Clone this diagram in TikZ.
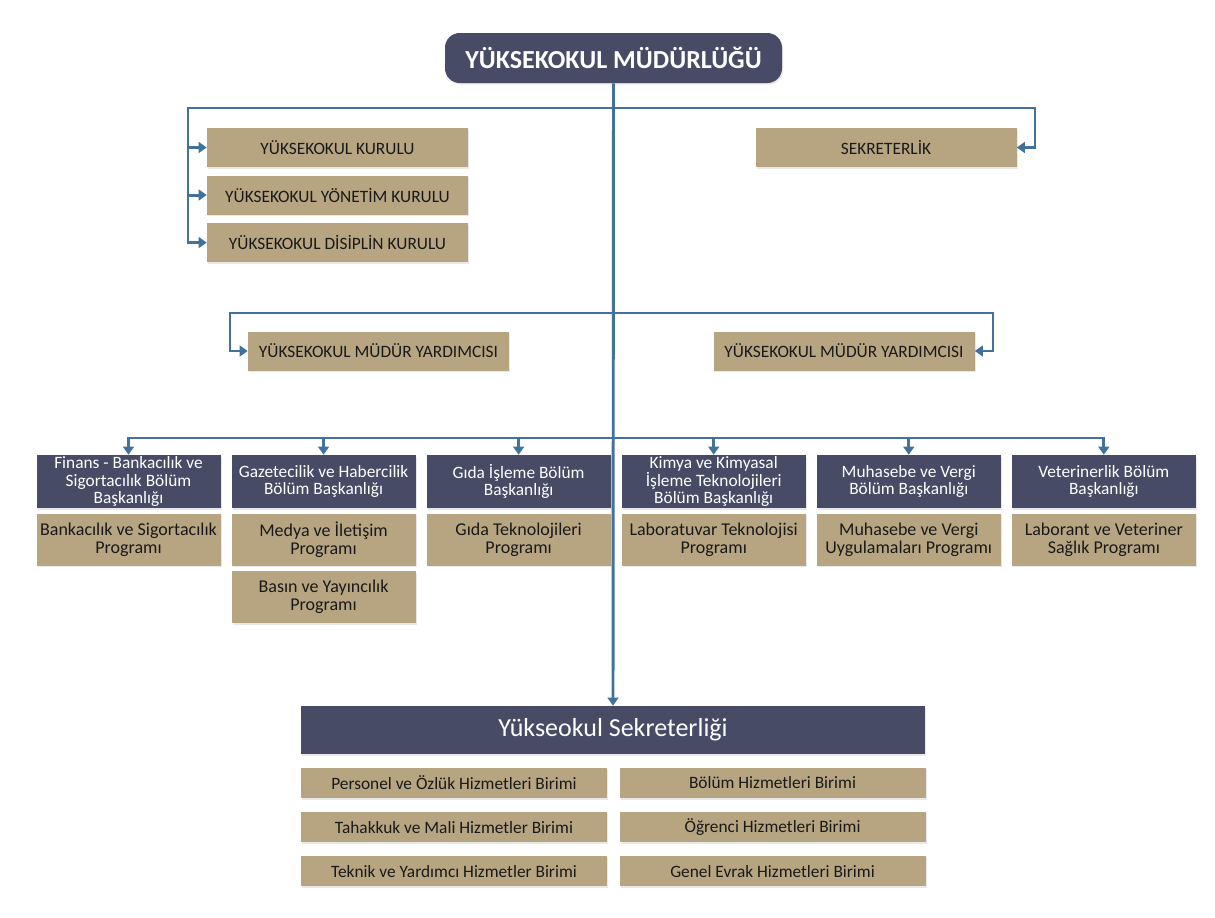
\documentclass[tikz,border=0pt]{standalone}
\usepackage{fontspec}
\setmainfont{Carlito}
\usetikzlibrary{positioning, arrows.meta, shadows}
\definecolor{navy}{RGB}{71,75,102}
\definecolor{sand}{RGB}{183,165,130}
\definecolor{steel}{RGB}{66,114,156}
\tikzstyle{Shade} = [drop shadow={opacity=0.18, shadow xshift=0.8pt, shadow yshift=-1.2pt}]
\tikzstyle{Head} = [fill=navy, text=white, rounded corners=11pt,
font=\bfseries\fontsize{19.5}{22}\selectfont,
minimum width=252.75pt, minimum height=37.5pt, Shade]
\tikzstyle{Board} = [fill=sand, text=black!90, inner sep=1pt,
font=\fontsize{13}{15}\selectfont,
minimum width=195.75pt, minimum height=29.25pt, Shade]
\tikzstyle{Dept} = [fill=navy, text=white, align=center, inner sep=0pt,
font=\fontsize{13}{13.2}\selectfont,
minimum width=138pt, minimum height=39.75pt, Shade]
\tikzstyle{Prog} = [fill=sand, text=black!90, align=center, inner sep=0pt,
font=\fontsize{13.5}{13.5}\selectfont,
minimum width=138pt, minimum height=39pt, Shade]
\tikzstyle{Unit} = [fill=sand, text=black!90, inner sep=1pt,
font=\fontsize{13}{15}\selectfont,
minimum width=229.5pt, minimum height=22.9pt, Shade]
\tikzstyle{Link} = [draw=steel, line width=2.2pt,
-{Triangle[width=8pt,length=6pt]}]

\begin{document}
\begin{tikzpicture}[x=0.75pt, y=-0.75pt, node distance=7.9pt]
    \useasboundingbox (0,0) rectangle (1215,918);
    \node [Head] (0) at (613.5,58) {YÜKSEKOKUL MÜDÜRLÜĞÜ};
    \node [Board] (1) at (337.5,147.5) {YÜKSEKOKUL KURULU};
    \node [Board, below=6pt of 1] (2) {YÜKSEKOKUL YÖNETİM KURULU};
    \node [Board, below=6pt of 2] (3) {YÜKSEKOKUL DİSİPLİN KURULU};
    \node [Board] (4) at (886,147.5) {SEKRETERLİK};
    \node [Board] (5) at (378.5,351) {YÜKSEKOKUL MÜDÜR YARDIMCISI};
    \node [Board] (6) at (844,351) {YÜKSEKOKUL MÜDÜR YARDIMCISI};
    \node [Dept] (7) at (128.5,481.5) {Finans - Bankacılık ve\\Sigortacılık Bölüm\\Başkanlığı};
    \node [Dept, right=of 7] (8) {Gazetecilik ve Habercilik\\Bölüm Başkanlığı};
    \node [Dept, right=of 8] (9) {Gıda İşleme Bölüm\\Başkanlığı};
    \node [Dept, right=of 9] (10) {Kimya ve Kimyasal\\İşleme Teknolojileri\\Bölüm Başkanlığı};
    \node [Dept, right=of 10] (11) {Muhasebe ve Vergi\\Bölüm Başkanlığı};
    \node [Dept, right=of 11] (12) {Veterinerlik Bölüm\\Başkanlığı};
    \node [Prog, below=3.75pt of 7] (13) {Bankacılık ve Sigortacılık\\Programı};
    \node [Prog, below=3.75pt of 8] (14) {Medya ve İletişim\\Programı};
    \node [Prog, below=3.75pt of 14] (15) {Basın ve Yayıncılık\\Programı};
    \node [Prog, below=3.75pt of 9] (16) {Gıda Teknolojileri\\Programı};
    \node [Prog, below=3.75pt of 10] (17) {Laboratuvar Teknolojisi\\Programı};
    \node [Prog, below=3.75pt of 11] (18) {Muhasebe ve Vergi\\Uygulamaları Programı};
    \node [Prog, below=3.75pt of 12] (19) {Laborant ve Veteriner\\Sağlık Programı};
    \node [Dept, minimum width=468pt, minimum height=36pt,
        font=\fontsize{19.5}{22}\selectfont] (20) at (613,730) {Yükseokul Sekreterliği};
    \node [Unit] (21) at (454,783) {Personel ve Özlük Hizmetleri Birimi};
    \node [Unit, below=9.75pt of 21] (22) {Tahakkuk ve Mali Hizmetler Birimi};
    \node [Unit, below=9.75pt of 22] (23) {Teknik ve Yardımcı Hizmetler Birimi};
    \node [Unit, right=9pt of 21] (24) {Bölüm Hizmetleri Birimi};
    \node [Unit, right=9pt of 22] (25) {Öğrenci Hizmetleri Birimi};
    \node [Unit, right=9pt of 23] (26) {Genel Evrak Hizmetleri Birimi};
    \coordinate (b) at (613,108);
    \coordinate (bl) at (188,108);
    \coordinate (br) at (1035,108);
    \coordinate (c) at (613,313);
    \coordinate (cl) at (230,313);
    \coordinate (cr) at (993,313);
    \coordinate (d) at (613,438);
    \draw [Link] (0.south) -- (20.north);
    \draw [Link] (b) -- (bl) |- (1.west);
    \draw [Link] (bl) |- (2.west);
    \draw [Link] (bl) |- (3.west);
    \draw [Link] (b) -- (br) |- (4.east);
    \draw [Link] (c) -- (cl) |- (5.west);
    \draw [Link] (c) -- (cr) |- (6.east);
    \foreach \n in {7,...,12}
        \draw [Link] (d) -| (\n.north);
\end{tikzpicture}
\end{document}
